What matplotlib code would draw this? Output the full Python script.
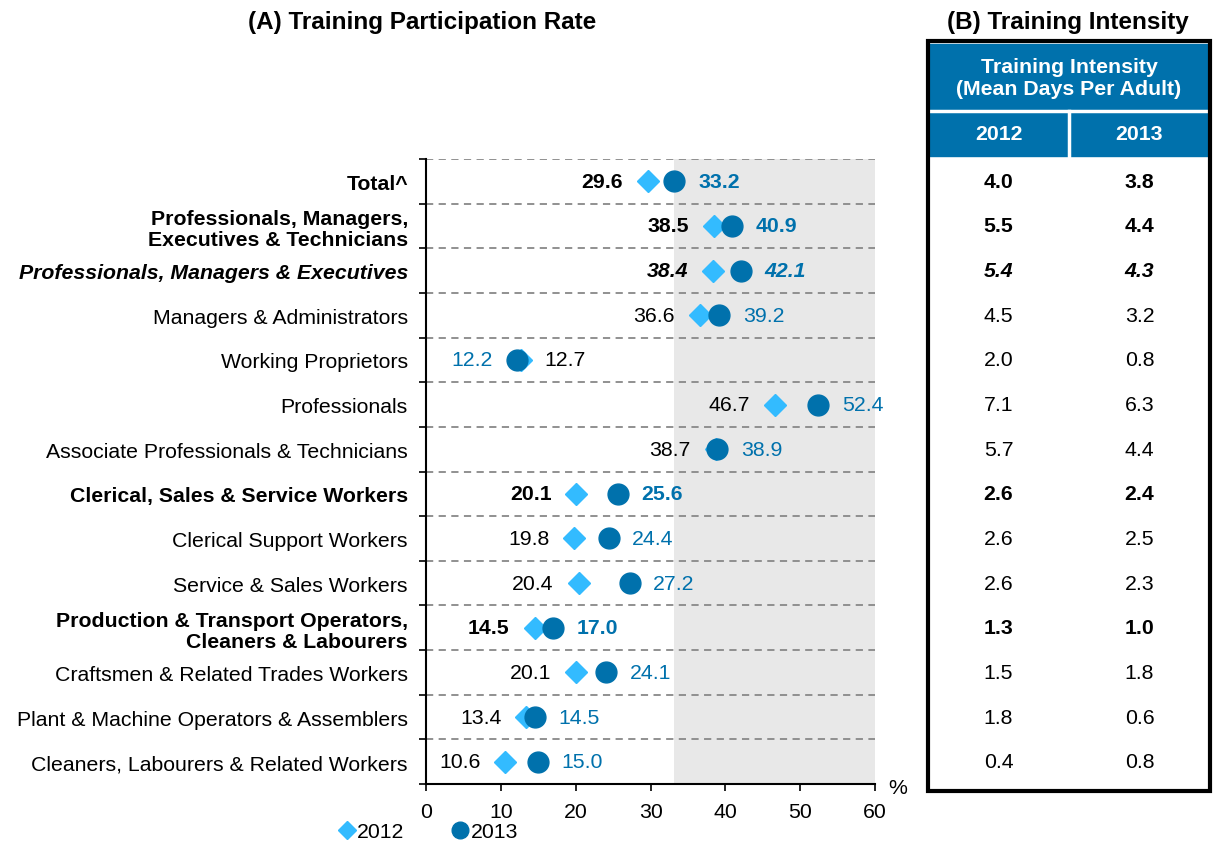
import matplotlib.pyplot as plt
import matplotlib.transforms as mtransforms
from matplotlib.patches import Rectangle
from matplotlib.lines import Line2D

plt.rcParams['font.family'] = ['Liberation Sans', 'DejaVu Sans']

# data
occupations = [
    "Total^",
    "Professionals, Managers,\nExecutives & Technicians",
    "Professionals, Managers & Executives",
    "Managers & Administrators",
    "Working Proprietors",
    "Professionals",
    "Associate Professionals & Technicians",
    "Clerical, Sales & Service Workers",
    "Clerical Support Workers",
    "Service & Sales Workers",
    "Production & Transport Operators,\nCleaners & Labourers",
    "Craftsmen & Related Trades Workers",
    "Plant & Machine Operators & Assemblers",
    "Cleaners, Labourers & Related Workers",
]
rate_2012 = [29.6, 38.5, 38.4, 36.6, 12.7, 46.7, 38.7, 20.1, 19.8, 20.4, 14.5, 20.1, 13.4, 10.6]
rate_2013 = [33.2, 40.9, 42.1, 39.2, 12.2, 52.4, 38.9, 25.6, 24.4, 27.2, 17.0, 24.1, 14.5, 15.0]
days_2012 = ["4.0", "5.5", "5.4", "4.5", "2.0", "7.1", "5.7", "2.6", "2.6", "2.6", "1.3", "1.5", "1.8", "0.4"]
days_2013 = ["3.8", "4.4", "4.3", "3.2", "0.8", "6.3", "4.4", "2.4", "2.5", "2.3", "1.0", "1.8", "0.6", "0.8"]
years = ["2012", "2013"]

# row text style: b = bold, bi = bold italic, n = normal
row_style = ["b", "b", "bi", "n", "n", "n", "n", "b", "n", "n", "b", "n", "n", "n"]

c12 = "#33BBFF"
c13 = "#0071AC"
fs = 15.3

def font_kw(s):
    return dict(fontweight="bold" if s in ("b", "bi") else "normal",
                fontstyle="italic" if s == "bi" else "normal")

fig = plt.figure(figsize=(12.14, 8.45), dpi=100)
W, H = 1214, 845
ax = fig.add_axes([426 / W, 1 - 785 / H, (875 - 426) / W, (785 - 160) / H])

n = len(occupations)
ys = list(range(n))

ax.set_xlim(0, 60)
ax.set_ylim(n - 0.5, -0.5)
ax.axvspan(rate_2013[0], 60, color="#E8E8E8", zorder=0, lw=0)
for b in range(-1, n - 1):
    ax.axhline(b + 0.5, color="#888888", lw=1.3, ls=(0, (4, 3)), zorder=1)

ax.plot(rate_2012, ys, ls="none", marker="D", ms=11, color=c12, zorder=3)
ax.plot(rate_2013, ys, ls="none", marker="o", ms=15, color=c13, zorder=4)

for i in ys:
    kw = font_kw(row_style[i])
    a, b = rate_2012[i], rate_2013[i]
    if a <= b:
        left, lc, right, rc = a, "black", b, c13
    else:
        left, lc, right, rc = b, c13, a, "black"
    ax.annotate(f"{left:.1f}", (min(a, b), i), xytext=(-18, 0), textcoords="offset points",
                ha="right", va="center", color=lc, fontsize=fs, **kw)
    ax.annotate(f"{right:.1f}", (max(a, b), i), xytext=(17, 0), textcoords="offset points",
                ha="left", va="center", color=rc, fontsize=fs, **kw)

ax.set_yticks(ys)
ax.set_yticklabels(occupations, fontsize=fs, multialignment="right", linespacing=1.15)
for lab, s in zip(ax.get_yticklabels(), row_style):
    lab.set_fontweight(font_kw(s)["fontweight"])
    lab.set_fontstyle(font_kw(s)["fontstyle"])
ax.tick_params(axis="y", which="major", length=0, pad=13)
ax.set_yticks([b + 0.5 for b in range(-1, n)], minor=True)
ax.tick_params(axis="y", which="minor", length=5, width=1.2)
ax.set_xticks(range(0, 61, 10))
ax.tick_params(axis="x", labelsize=fs, length=5, width=1.2, direction="out", pad=8)
for s in ("top", "right"):
    ax.spines[s].set_visible(False)
ax.spines["left"].set_linewidth(1.5)
ax.spines["bottom"].set_linewidth(1.5)
ax.text(1.05, -0.005, "%", transform=ax.transAxes, fontsize=fs, ha="center", va="center")

fig.text(422 / W, 1 - 22 / H, "(A) Training Participation Rate", ha="center", va="center",
         fontsize=17.5, fontweight="bold")

# legend
handles = [Line2D([], [], ls="none", marker="D", ms=9, color=c12),
           Line2D([], [], ls="none", marker="o", ms=12, color=c13)]
fig.legend(handles, years, loc="center left", bbox_to_anchor=(336 / W, 1 - 833 / H), ncol=2,
           frameon=False, fontsize=fs, handletextpad=0.0, columnspacing=2.1, handlelength=1.0,
           borderaxespad=0, borderpad=0)

# table (B)
ax2 = fig.add_axes([928 / W, ax.get_position().y0, (1210 - 928) / W, ax.get_position().height])
ax2.set_xlim(0, 1)
ax2.set_ylim(n - 0.5, -0.5)
ax2.axis("off")
tr = mtransforms.blended_transform_factory(ax2.transAxes, ax.transData)
y_top, y_mid, y_head_end, y_bot = -3.08, -1.57, -0.56, n - 0.5 + 0.15
ax2.add_patch(Rectangle((0, y_top), 1, y_head_end - y_top, transform=tr, color=c13,
                        clip_on=False, zorder=1))
ax2.plot([0, 1], [y_mid, y_mid], color="white", lw=2.5, transform=tr, clip_on=False, zorder=2)
ax2.plot([0.5, 0.5], [y_mid, y_head_end], color="white", lw=2.5, transform=tr, clip_on=False, zorder=2)
ax2.add_patch(Rectangle((0, y_top - 0.06), 1, y_bot - y_top + 0.06, transform=tr, fill=False,
                        ec="black", lw=3, clip_on=False, zorder=3))
ax2.text(0.5, (y_top + y_mid) / 2, "Training Intensity\n(Mean Days Per Adult)", transform=tr,
         ha="center", va="center", color="white", fontsize=fs, fontweight="bold", linespacing=1.15)
for j, yr in enumerate(years):
    ax2.text(0.25 + 0.5 * j, (y_mid + y_head_end) / 2, yr, transform=tr, ha="center", va="center",
             color="white", fontsize=fs, fontweight="bold")
for i in ys:
    kw = font_kw(row_style[i])
    ax2.text(0.25, i, days_2012[i], transform=tr, ha="center", va="center", fontsize=fs, **kw)
    ax2.text(0.75, i, days_2013[i], transform=tr, ha="center", va="center", fontsize=fs, **kw)

fig.text(1068 / W, 1 - 22 / H, "(B) Training Intensity", ha="center", va="center",
         fontsize=17.5, fontweight="bold")

fig.savefig("out.png", dpi=100)
